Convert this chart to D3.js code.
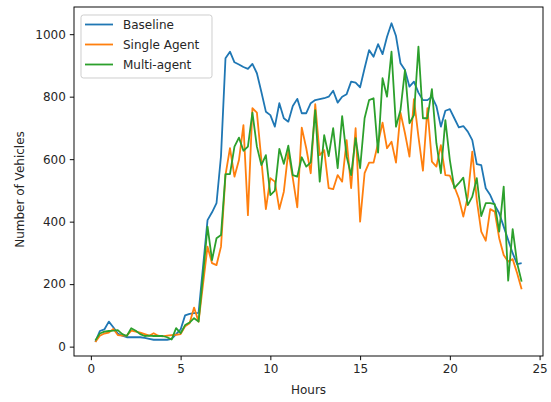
<!DOCTYPE html>
<html>
<head>
<meta charset="utf-8">
<script src="https://cdn.jsdelivr.net/npm/d3@7"></script>
<style>
  body { margin: 0; background: #fff; }
  text { font-family: "DejaVu Sans", sans-serif; fill: #262626; }
</style>
</head>
<body>
<div id="chart"></div>
<script>
// values, one every quarter hour from 0.25 to 24
var baseline = [
  15, 50, 55, 80, 62, 42, 35, 30, 30, 30, 30, 28, 25, 22, 22, 22,
  22, 25, 40, 55, 100, 105, 107, 108, 256, 405, 430, 459, 610, 923, 944, 910,
  903, 895, 889, 905, 875, 815, 752, 741, 704, 779, 731, 720, 770, 793, 747, 747,
  779, 789, 792, 795, 800, 819, 781, 800, 808, 848, 845, 830, 891, 949, 928, 968,
  936, 992, 1035, 994, 907, 885, 832, 848, 813, 789, 789, 800, 770, 704, 755, 760,
  731, 702, 706, 688, 661, 584, 581, 507, 485, 453, 427, 384, 341, 299, 264, 267
];
var singleAgent = [
  15, 35, 42, 45, 57, 37, 35, 35, 51, 48, 45, 40, 35, 43, 35, 33,
  35, 37, 38, 40, 65, 75, 125, 80, 200, 320, 267, 261, 320, 549, 635, 544,
  597, 709, 421, 763, 749, 597, 440, 539, 528, 440, 496, 624, 539, 446, 701, 635,
  555, 776, 613, 629, 507, 504, 549, 528, 661, 507, 699, 400, 555, 589, 589, 651,
  717, 635, 656, 589, 749, 683, 608, 792, 672, 563, 763, 592, 576, 645, 549, 547,
  512, 475, 416, 480, 624, 469, 368, 339, 440, 432, 347, 293, 272, 280, 235, 184
];
var multiAgent = [
  20, 42, 48, 50, 51, 53, 40, 34, 59, 51, 40, 34, 35, 34, 34, 34,
  30, 23, 59, 43, 69, 77, 91, 80, 230, 384, 277, 347, 357, 552, 552, 640,
  669, 627, 640, 749, 640, 581, 613, 485, 499, 633, 585, 643, 549, 544, 606, 576,
  590, 757, 528, 677, 610, 699, 571, 738, 608, 549, 667, 571, 731, 789, 795, 621,
  859, 800, 944, 704, 757, 885, 715, 741, 960, 731, 731, 824, 651, 555, 725, 597,
  507, 523, 541, 453, 480, 539, 418, 459, 459, 456, 368, 512, 211, 376, 267, 208
];
var seriesNames = ["Baseline", "Single Agent", "Multi-agent"];
var seriesColors = ["#1f77b4", "#ff7f0e", "#2ca02c"];
var xTicks = [0, 5, 10, 15, 20, 25];
var yTicks = [0, 200, 400, 600, 800, 1000];

var hours = baseline.map((d, i) => (i + 1) * 0.25);
var allSeries = [baseline, singleAgent, multiAgent];

var svgWidth = 551;
var svgHeight = 402;
var margin = { top: 7, right: 8, bottom: 46, left: 74 };
var width = svgWidth - margin.left - margin.right;
var height = svgHeight - margin.top - margin.bottom;

var svg = d3.select("#chart")
  .append("svg")
  .attr("width", svgWidth)
  .attr("height", svgHeight);

var chartGroup = svg.append("g")
  .attr("transform", `translate(${margin.left}, ${margin.top})`);

// matplotlib style 5% padding on both axes
var xScale = d3.scaleLinear()
  .domain([-0.94, 25.19])
  .range([0, width]);
var yScale = d3.scaleLinear()
  .domain([-30, 1087])
  .range([height, 0]);

var line = d3.line()
  .x((d, i) => xScale(hours[i]))
  .y(d => yScale(d));

allSeries.forEach(function(s, k) {
  chartGroup.append("path")
    .datum(s)
    .attr("fill", "none")
    .attr("stroke", seriesColors[k])
    .attr("stroke-width", 1.8)
    .attr("stroke-linejoin", "round")
    .attr("d", line);
});

// axes
var bottomAxis = d3.axisBottom(xScale).tickValues(xTicks).tickSize(4.2).tickPadding(4)
  .tickFormat(d3.format("d"));
var leftAxis = d3.axisLeft(yScale).tickValues(yTicks).tickSize(4.2).tickPadding(4)
  .tickFormat(d3.format("d"));

var xAxis = chartGroup.append("g")
  .attr("transform", `translate(0, ${height})`)
  .call(bottomAxis);
var yAxis = chartGroup.append("g")
  .call(leftAxis);

[xAxis, yAxis].forEach(function(ax) {
  ax.select(".domain").remove();
  ax.selectAll(".tick line").attr("stroke", "#000").attr("stroke-width", 0.96);
  ax.selectAll(".tick text")
    .attr("font-family", "DejaVu Sans, sans-serif")
    .attr("font-size", "12px")
    .attr("fill", "#000");
});

// spines
chartGroup.append("rect")
  .attr("width", width)
  .attr("height", height)
  .attr("fill", "none")
  .attr("stroke", "#000")
  .attr("stroke-width", 0.96);

// axis labels
chartGroup.append("text")
  .attr("x", width / 2)
  .attr("y", height + 38)
  .attr("text-anchor", "middle")
  .attr("font-size", "12px")
  .attr("fill", "#000")
  .text("Hours");

chartGroup.append("text")
  .attr("transform", "rotate(-90)")
  .attr("x", -height / 2 - 8)
  .attr("y", -margin.left + 24)
  .attr("text-anchor", "middle")
  .attr("font-size", "12px")
  .attr("fill", "#000")
  .text("Number of Vehicles");

// legend
var legend = chartGroup.append("g")
  .attr("transform", "translate(7, 8)");

legend.append("rect")
  .attr("width", 131)
  .attr("height", 63)
  .attr("rx", 2.5)
  .attr("fill", "#fff")
  .attr("fill-opacity", 0.8)
  .attr("stroke", "#cccccc")
  .attr("stroke-width", 0.96);

seriesNames.forEach(function(name, k) {
  var row = legend.append("g")
    .attr("transform", `translate(0, ${9.5 + k * 20})`);
  row.append("line")
    .attr("x1", 4)
    .attr("x2", 32)
    .attr("stroke", seriesColors[k])
    .attr("stroke-width", 1.8);
  row.append("text")
    .attr("x", 42)
    .attr("dy", "0.35em")
    .attr("font-size", "12px")
    .attr("fill", "#000")
    .text(name);
});
</script>
</body>
</html>
